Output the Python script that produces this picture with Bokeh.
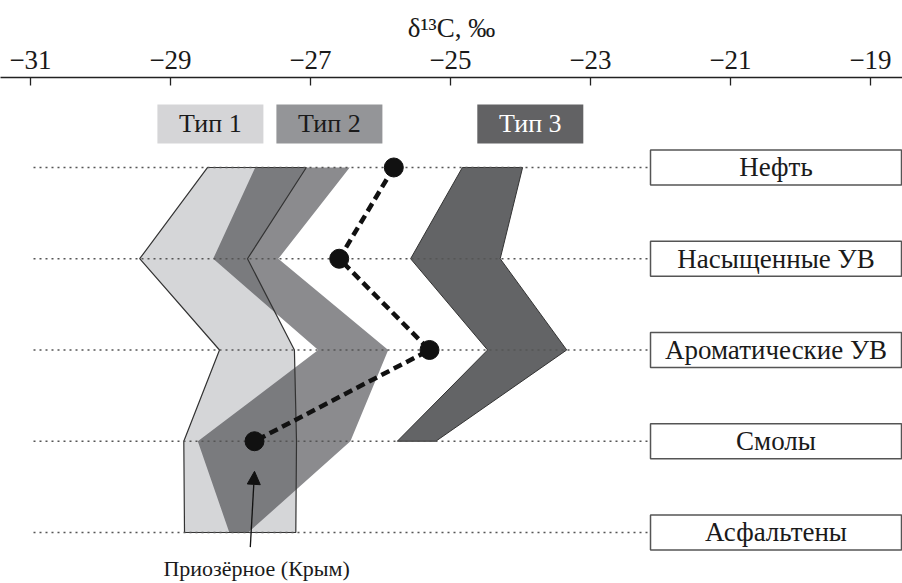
from bokeh.plotting import figure
from bokeh.models import Range1d, FixedTicker, Arrow, NormalHead
from bokeh.core.properties import value
from bokeh.embed import file_html
from bokeh.resources import INLINE

# ---- data ----
rows = ["Нефть", "Насыщенные УВ", "Ароматические УВ", "Смолы", "Асфальтены"]
ticks = [-31, -29, -27, -25, -23, -21, -19]
tick_labels = ["−31", "−29", "−27", "−25", "−23", "−21", "−19"]

type1_left = [-28.47, -29.44, -28.30, -28.81, -28.80]
type1_right = [-27.06, -27.90, -27.23, -27.20, -27.21]
type2_left = [-27.79, -28.39, -26.89, -28.61, -28.16]
type2_right = [-26.44, -27.46, -25.89, -26.43, -27.89]
type3_left = [-24.83, -25.57, -24.47, -25.76]
type3_right = [-23.97, -24.29, -23.34, -25.21]
prioz = [-25.81, -26.59, -25.30, -27.80]

legend_names = ["Тип 1", "Тип 2", "Тип 3"]
legend_x = [-28.43, -26.73, -23.86]
point_label = "Приозёрное (Крым)"
axis_title = "δ¹³C, ‰"

FONT = "Liberation Serif"
C1, C2, C3 = "#d5d6d8", "#3d3e42", "#636466"

ypos = list(range(len(rows)))

p = figure(width=902, height=583, output_backend="svg", toolbar_location=None,
           x_axis_location="above", y_axis_location=None,
           x_range=Range1d(-31.4286, -18.543), y_range=Range1d(4.559, -0.986),
           min_border_left=0, min_border_right=0, min_border_bottom=0, min_border_top=77)
p.grid.visible = False
p.outline_line_color = None
p.background_fill_color = "white"
p.border_fill_color = "white"

ax = p.xaxis[0]
ax.ticker = FixedTicker(ticks=ticks)
ax.major_label_overrides = {t: l for t, l in zip(ticks, tick_labels)}
ax.major_tick_out = 0
ax.major_tick_in = 8
ax.minor_tick_out = 0
ax.minor_tick_in = 0
ax.axis_line_color = "#222222"
ax.axis_line_width = 1.3
ax.major_tick_line_color = "#222222"
ax.major_tick_line_width = 1.3
ax.major_label_text_font = FONT
ax.major_label_text_font_size = "27px"
ax.major_label_text_color = "#1a1a1a"
ax.major_label_standoff = 9
ax.axis_label = axis_title
ax.axis_label_text_font = FONT
ax.axis_label_text_font_style = "normal"
ax.axis_label_text_font_size = "27px"
ax.axis_label_text_color = "#1a1a1a"
ax.axis_label_standoff = 5

# polygons
t1x = type1_left + type1_right[::-1]
t1y = ypos + ypos[::-1]
t2x = type2_left + type2_right[::-1]
t3y = ypos[:4] + ypos[:4][::-1]
t3x = type3_left + type3_right[::-1]

p.patch(t1x, t1y, fill_color=C1, line_color=None)
p.patch(t2x, t1y, fill_color=C2, fill_alpha=0.6, line_color=None)
p.patch(t1x, t1y, fill_color=None, line_color="#333333", line_width=1.2)
p.patch(t3x, t3y, fill_color=C3, line_color="#333333", line_width=1.0)

# dotted row lines
x_line0 = -31 + 3 / 70
x_box_left = -31 + 620 / 70
x_box_right = -31 + 871 / 70
p.segment(x0=[x_line0] * len(rows), x1=[x_box_left] * len(rows), y0=ypos, y1=ypos,
          line_color="#555555", line_width=1.4, line_dash="2 4")

# row label boxes
bx = (x_box_left + x_box_right) / 2
bw = x_box_right - x_box_left
p.rect(x=[bx] * len(rows), y=ypos, width=bw, height=35, height_units="screen",
       fill_color="white", line_color="#555555", line_width=1.5)
p.text(x=[bx] * len(rows), y=ypos, text=rows, text_align="center", text_baseline="middle",
       text_font=value(FONT), text_font_size="27px", text_color="#1a1a1a")

# legend boxes
ly = [-0.477] * 3
p.rect(x=legend_x, y=ly, width=106 / 70, height=39, height_units="screen",
       fill_color=["#d5d5d7", "#949598", "#626264"], line_color=None)
p.text(x=legend_x, y=ly, text=legend_names, text_align="center", text_baseline="middle",
       text_font=value(FONT), text_font_size="26px",
       text_color=["#1a1a1a", "#1a1a1a", "#ffffff"])

# dashed line with points
p.line(prioz, ypos[:4], line_color="#111111", line_width=4.5, line_dash="9 5")
p.scatter(prioz, ypos[:4], size=19, fill_color="#111111", line_color="#111111")

# arrow + label
p.add_layout(Arrow(end=NormalHead(size=13, fill_color="#111111", line_color="#111111", line_width=1),
                   x_start=prioz[3] - 0.06, y_start=4.16, x_end=prioz[3], y_end=3.33,
                   line_color="#111111", line_width=1.3))
p.text(x=[prioz[3] + 0.03], y=[4.39], text=[point_label], text_align="center", text_baseline="middle",
       text_font=value(FONT), text_font_size="22px", text_color="#1a1a1a")

open("out.html", "w").write(file_html(p, INLINE))
